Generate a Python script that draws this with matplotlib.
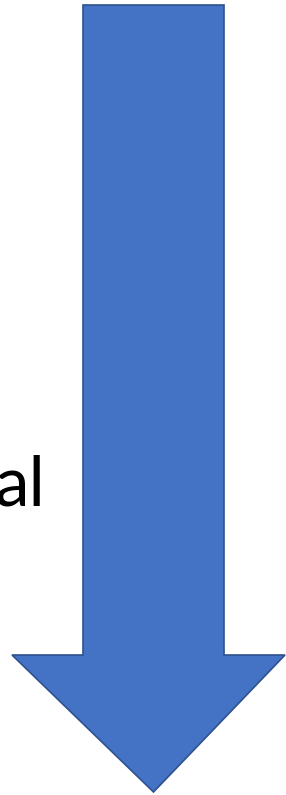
import matplotlib.pyplot as plt
from matplotlib.patches import Polygon

# arrow outline in pixel coords (y down)
shaft_x = [83, 224]
shaft_top = 5
head_y = 655
head_x = [12, 285]
tip = [153.5, 792]

label_text = "al"
label_pos = [46, 505]

fig = plt.figure(figsize=(2.86, 7.95), dpi=100)
ax = fig.add_axes([0, 0, 1, 1])
ax.set_xlim(0, 286)
ax.set_ylim(795, 0)
ax.axis('off')

pts = [
    (shaft_x[0], shaft_top), (shaft_x[1], shaft_top),
    (shaft_x[1], head_y), (head_x[1], head_y),
    (tip[0], tip[1]),
    (head_x[0], head_y), (shaft_x[0], head_y),
]
ax.add_patch(Polygon(pts, closed=True, facecolor='#4472C4',
                     edgecolor='#2F528F', linewidth=1.2, joinstyle='miter'))

ax.text(label_pos[0], label_pos[1], label_text, fontsize=50,
        family=['Lato', 'DejaVu Sans'], ha='right', va='baseline', color='black')

fig.savefig('out.png', dpi=100)
